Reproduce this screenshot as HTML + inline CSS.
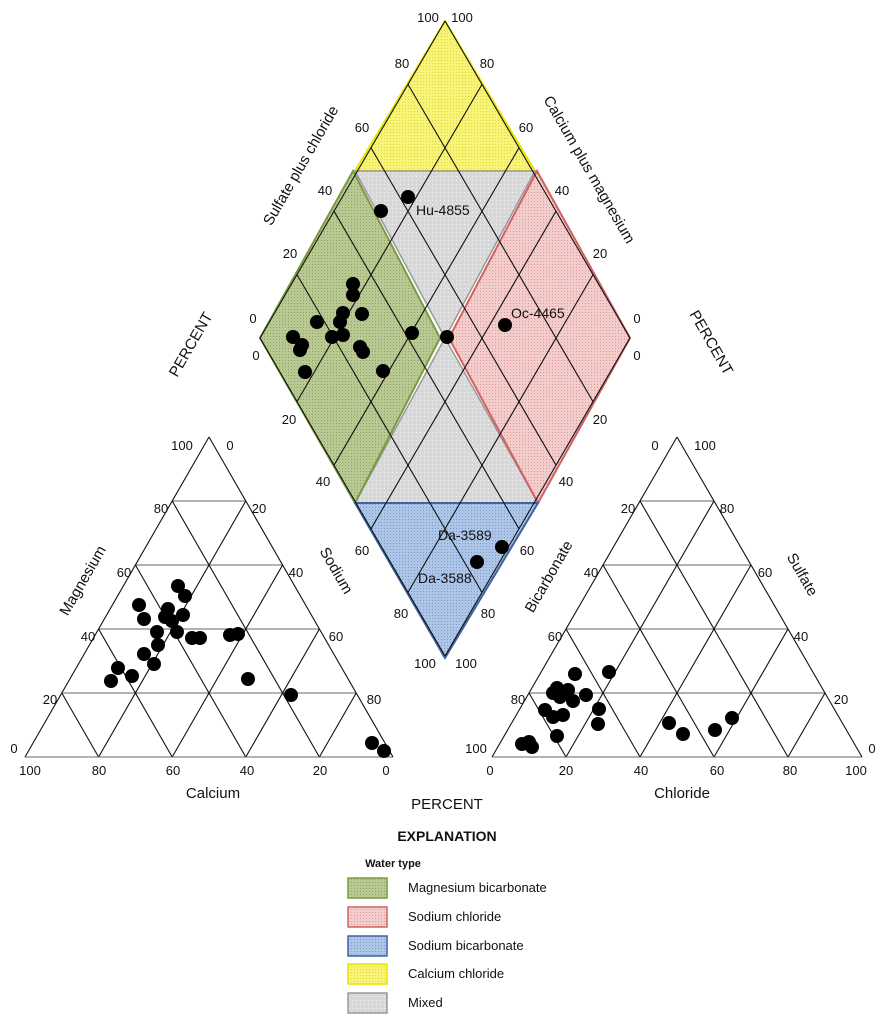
<!DOCTYPE html>
<html><head><meta charset="utf-8"><style>
html,body{margin:0;padding:0;background:#fff}
svg{display:block}
text{font-family:"Liberation Sans Narrow","Liberation Sans",sans-serif;font-size:13px;fill:#111}
</style></head><body>
<svg id="s" width="886" height="1024" viewBox="0 0 886 1024" xmlns="http://www.w3.org/2000/svg">
<defs>
<pattern id="hg" width="3" height="3" patternUnits="userSpaceOnUse"><rect width="3" height="3" fill="#b9c994"/><rect width="1" height="1" fill="#8fa65c"/></pattern>
<pattern id="hp" width="3" height="3" patternUnits="userSpaceOnUse"><rect width="3" height="3" fill="#f3cccc"/><rect width="1" height="1" fill="#e09a9a"/></pattern>
<pattern id="hb" width="3" height="3" patternUnits="userSpaceOnUse"><rect width="3" height="3" fill="#adc6e8"/><rect width="1" height="1" fill="#7a9ccc"/></pattern>
<pattern id="hy" width="3" height="3" patternUnits="userSpaceOnUse"><rect width="3" height="3" fill="#f8f47a"/><rect width="1" height="1" fill="#e2dc30"/></pattern>
<pattern id="hx" width="4" height="4" patternUnits="userSpaceOnUse"><rect width="4" height="4" fill="#d8d8d8"/><rect width="1" height="1" fill="#f4f4f4"/></pattern>
</defs>
<polygon points="445,21 355,171 535,171" fill="url(#hy)" stroke="#e8e400" stroke-width="2"/>
<polygon points="355,171 535,171 445,338" fill="url(#hx)" stroke="#999" stroke-width="1.5"/>
<polygon points="445,338 355,503 538,503" fill="url(#hx)" stroke="#999" stroke-width="1.5"/>
<polygon points="260,338 353,171 440,338 355,503" fill="url(#hg)" stroke="#7c9a40" stroke-width="2"/>
<polygon points="630,338 537,171 449,338 538,503" fill="url(#hp)" stroke="#d06262" stroke-width="2"/>
<polygon points="355,503 538,503 445,658" fill="url(#hb)" stroke="#3d64a0" stroke-width="2"/>
<g id="lines" stroke="#111" stroke-width="1.1" fill="none"></g>
<g id="dots" fill="#000"></g>
<g id="txt"></g>
<text x="416" y="215" style="font-size:14px">Hu-4855</text>
<text x="511" y="318" style="font-size:14px">Oc-4465</text>
<text x="438" y="540" style="font-size:14px">Da-3589</text>
<text x="418" y="583" style="font-size:14px">Da-3588</text>
<text transform="translate(305,168) rotate(-60)" text-anchor="middle" style="font-size:15px">Sulfate plus chloride</text>
<text transform="translate(585,172) rotate(60)" text-anchor="middle" style="font-size:15px">Calcium plus magnesium</text>
<text transform="translate(195,347) rotate(-60)" text-anchor="middle" style="font-size:15px">PERCENT</text>
<text transform="translate(707,345) rotate(60)" text-anchor="middle" style="font-size:15px">PERCENT</text>
<text transform="translate(87,583) rotate(-60)" text-anchor="middle" style="font-size:15px">Magnesium</text>
<text transform="translate(332,573) rotate(60)" text-anchor="middle" style="font-size:15px">Sodium</text>
<text transform="translate(553,579) rotate(-60)" text-anchor="middle" style="font-size:15px">Bicarbonate</text>
<text transform="translate(798,577) rotate(60)" text-anchor="middle" style="font-size:15px">Sulfate</text>
<text x="213" y="798" text-anchor="middle" style="font-size:15px">Calcium</text>
<text x="682" y="798" text-anchor="middle" style="font-size:15px">Chloride</text>
<text x="447" y="809" text-anchor="middle" style="font-size:15px">PERCENT</text>
<text x="447" y="841" text-anchor="middle" style="font-size:14px;font-weight:bold;font-family:'Liberation Sans',sans-serif">EXPLANATION</text>
<text x="393" y="867" text-anchor="middle" style="font-size:11px;font-weight:bold;font-family:'Liberation Sans',sans-serif">Water type</text>
<rect x="348" y="878" width="39" height="20" fill="url(#hg)" stroke="#7c9a40" stroke-width="1.5"/>
<rect x="348" y="907" width="39" height="20" fill="url(#hp)" stroke="#d06262" stroke-width="1.5"/>
<rect x="348" y="936" width="39" height="20" fill="url(#hb)" stroke="#3d64a0" stroke-width="1.5"/>
<rect x="348" y="964" width="39" height="20" fill="url(#hy)" stroke="#e8e400" stroke-width="1.5"/>
<rect x="348" y="993" width="39" height="20" fill="url(#hx)" stroke="#999" stroke-width="1.5"/>
<text x="408" y="892" style="font-size:13px">Magnesium bicarbonate</text>
<text x="408" y="921" style="font-size:13px">Sodium chloride</text>
<text x="408" y="950" style="font-size:13px">Sodium bicarbonate</text>
<text x="408" y="978" style="font-size:13px">Calcium chloride</text>
<text x="408" y="1007" style="font-size:13px">Mixed</text>
</svg>
<script>
var NS="http://www.w3.org/2000/svg";
var L=document.getElementById("lines"),D=document.getElementById("dots"),T=document.getElementById("txt");
function ln(a,b,c){var e=document.createElementNS(NS,"line");e.setAttribute("x1",a[0]);e.setAttribute("y1",a[1]);e.setAttribute("x2",b[0]);e.setAttribute("y2",b[1]);if(c)e.setAttribute("stroke",c);L.appendChild(e);}
function mix(a,b,t){return [a[0]+(b[0]-a[0])*t,a[1]+(b[1]-a[1])*t];}
var dL=[260,338],dT=[445,21],dR=[630,338],dB=[445,656];
for(var k=1;k<5;k++){var t=k/5;
 ln(mix(dL,dT,t),mix(dB,dR,t)); ln(mix(dL,dB,t),mix(dT,dR,t));}
ln(dL,dT);ln(dT,dR);ln(dR,dB);ln(dB,dL);
function tri(A,B,C){
 for(var k=1;k<5;k++){var t=k/5;
  ln(mix(A,C,t),mix(B,C,t),"#666");
  ln(mix(A,B,t),mix(A,C,t)); ln(mix(A,B,t),mix(B,C,1-t));}
 ln(A,B,"#666");ln(B,C);ln(C,A);}
tri([25,757],[393,757],[209,437]);
tri([492,757],[862,757],[677,437]);
var dots=[[178,586],[185,596],[139,605],[144,619],[168,609],[165,617],[172,621],[183,615],[177,632],[157,632],[158,645],[192,638],[200,638],[230,635],[238,634],[144,654],[154,664],[118,668],[111,681],[132,676],[248,679],[291,695],[372,743],[384,751],
[575,674],[609,672],[557,688],[568,690],[553,693],[573,701],[586,695],[560,697],[545,710],[553,717],[563,715],[599,709],[598,724],[557,736],[522,744],[529,742],[532,747],[669,723],[683,734],[715,730],[732,718],
[408,197],[381,211],[353,284],[353,295],[317,322],[343,313],[362,314],[340,322],[332,337],[343,335],[293,337],[412,333],[447,337],[505,325],[300,350],[302,345],[305,372],[360,347],[363,352],[383,371],[502,547],[477,562]];
dots.forEach(function(p){var c=document.createElementNS(NS,"circle");c.setAttribute("cx",p[0]);c.setAttribute("cy",p[1]);c.setAttribute("r",7);D.appendChild(c);});
var labs=[["100",428,22],["100",462,22],["80",402,68],["60",362,132],["40",325,195],["20",290,258],["0",253,323],["0",256,360],["20",289,424],["40",323,486],["60",362,555],["80",401,618],["100",425,668],
["80",487,68],["60",526,132],["40",562,195],["20",600,258],["0",637,323],["0",637,360],["20",600,424],["40",566,486],["60",527,555],["80",488,618],["100",466,668],
["100",182,450],["0",230,450],["80",161,513],["20",259,513],["60",124,577],["40",296,577],["40",88,641],["60",336,641],["20",50,704],["80",374,704],["0",14,753],
["100",30,775],["80",99,775],["60",173,775],["40",247,775],["20",320,775],["0",386,775],
["0",655,450],["100",705,450],["20",628,513],["80",727,513],["40",591,577],["60",765,577],["60",555,641],["40",801,641],["80",518,704],["20",841,704],["100",476,753],["0",872,753],
["0",490,775],["20",566,775],["40",641,775],["60",717,775],["80",790,775],["100",856,775]];
labs.forEach(function(a){var e=document.createElementNS(NS,"text");e.setAttribute("x",a[1]);e.setAttribute("y",a[2]);e.setAttribute("text-anchor","middle");e.textContent=a[0];T.appendChild(e);});
</script>
</body></html>
